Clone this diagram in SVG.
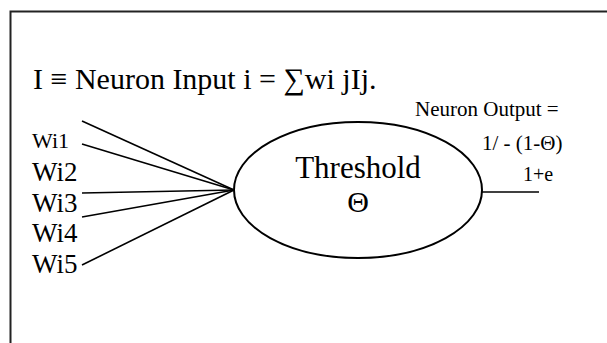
<svg xmlns="http://www.w3.org/2000/svg" width="607" height="343" viewBox="0 0 607 343">
<style>
  text { font-family: "Liberation Serif", "Times New Roman", serif; fill: #000; }
  .edge { stroke: #000; stroke-width: 1.6; fill: none; }
  .frame { stroke: #222; stroke-width: 2; fill: #fff; }
  .node { stroke: #000; stroke-width: 2; fill: #fff; }
</style>
<rect width="607" height="343" fill="#fff"/>
<rect class="frame" x="10.5" y="11.5" width="700" height="400"/>
<g id="title">
  <text x="33" y="89" font-size="30">I ≡ Neuron Input i = ∑wi jIj.</text>
</g>
<g id="output-label">
  <text x="415" y="116" font-size="21">Neuron Output =</text>
  <text x="482" y="150" font-size="21">1/ - (1-Θ)</text>
  <text x="523" y="181" font-size="20">1+e</text>
</g>
<g id="inputs">
  <text x="32" y="148" font-size="22">Wi1</text>
  <text x="32" y="181" font-size="27">Wi2</text>
  <text x="32" y="212" font-size="27">Wi3</text>
  <text x="32" y="242" font-size="27">Wi4</text>
  <text x="32" y="273" font-size="27">Wi5</text>
</g>
<g id="connectors">
  <line class="edge" x1="82" y1="121" x2="234" y2="190"/>
  <line class="edge" x1="82" y1="144" x2="234" y2="190"/>
  <line class="edge" x1="82" y1="193" x2="234" y2="190"/>
  <line class="edge" x1="82" y1="217" x2="234" y2="190"/>
  <line class="edge" x1="82" y1="265" x2="234" y2="190"/>
  <line class="edge" x1="477" y1="192" x2="539" y2="192"/>
</g>
<g id="threshold">
  <ellipse class="node" cx="358" cy="190" rx="124" ry="68"/>
  <text x="358" y="178" font-size="31" text-anchor="middle">Threshold</text>
  <text x="358" y="212" font-size="30" text-anchor="middle">Θ</text>
</g>
</svg>
